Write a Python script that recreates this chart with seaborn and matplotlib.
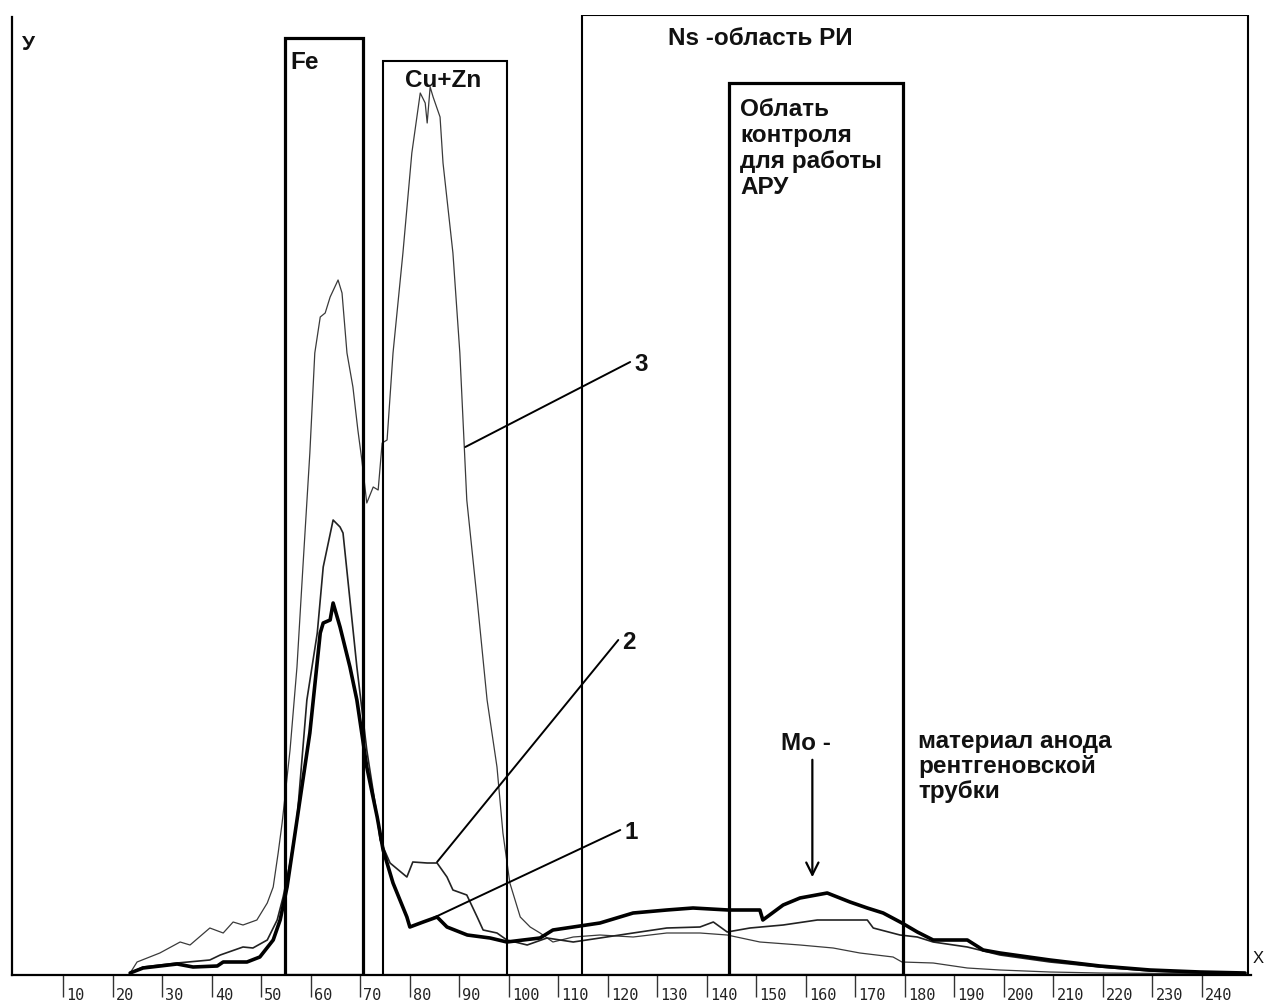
import matplotlib
matplotlib.use("Agg")
import matplotlib.pyplot as plt
import matplotlib.transforms as mtransforms
from matplotlib.patches import Rectangle
import numpy as np
import pandas as pd
import seaborn as sns

# ---------------- data ----------------
# curve 1 (thick)
ch1 = [23.5, 26.1, 33.0, 36.2, 41.1, 42.3, 47.1, 49.7, 52.4, 53.8, 55.2, 56.4, 57.8, 59.8,
       61.9, 62.5, 63.9, 64.5, 65.9, 67.9, 69.3, 71.3, 73.4, 74.6, 76.6, 79.4, 80.0, 82.7,
       85.5, 87.5, 91.6, 96.2, 99.6, 102.9, 106.3, 108.9, 113.0, 118.4, 125.1, 131.9, 137.2,
       144.3, 150.7, 151.3, 155.4, 158.8, 164.3, 168.9, 172.4, 175.6, 179.4, 182.5, 185.7,
       192.6, 195.8, 199.2, 209.3, 219.4, 229.5, 239.6, 248.7]
y1 = [2, 7, 11, 8, 9, 13, 13, 18, 35, 55, 88, 128, 175, 242,
      342, 352, 355, 372, 348, 308, 275, 208, 158, 125, 92, 58, 48, 53,
      58, 48, 40, 37, 33, 35, 37, 45, 48, 52, 62, 65, 67,
      65, 65, 55, 70, 77, 82, 73, 67, 62, 52, 43, 35,
      35, 25, 22, 15, 9, 5, 3, 2]

# curve 2 (medium)
ch2 = [23.5, 26.1, 33.0, 39.6, 41.7, 46.3, 48.3, 51.2, 53.2, 54.4, 55.8, 57.2, 59.2, 61.3,
       62.5, 64.5, 65.9, 66.5, 67.9, 69.3, 71.3, 73.4, 74.0, 76.0, 79.4, 80.6, 83.5, 85.5,
       87.5, 88.7, 91.5, 93.6, 94.8, 97.6, 99.6, 103.7, 107.7, 113.0, 118.4, 125.1, 131.9,
       138.6, 141.3, 144.1, 148.7, 155.4, 162.3, 172.4, 173.6, 179.0, 182.5, 185.7, 192.6,
       199.2, 209.3, 219.4, 229.5, 239.6, 248.7]
y2 = [2, 8, 12, 15, 20, 28, 27, 35, 55, 78, 112, 155, 275, 342,
      408, 455, 448, 442, 375, 308, 225, 158, 135, 112, 98, 113, 112, 112,
      98, 85, 80, 58, 45, 42, 35, 30, 37, 33, 37, 42, 47,
      48, 53, 43, 47, 50, 55, 55, 47, 40, 38, 33, 28,
      20, 13, 8, 4, 2, 1]

# curve 3 (thin)
ch3 = [23.5, 24.9, 29.5, 33.6, 35.6, 39.6, 42.3, 44.3, 46.3, 49.1, 51.2, 52.4, 53.4, 54.2,
       55.8, 57.2, 58.4, 59.8, 60.8, 61.9, 62.9, 63.9, 65.5, 66.3, 67.3, 68.5, 69.5, 70.3,
       71.3, 72.6, 73.6, 74.4, 75.4, 76.6, 78.6, 80.4, 82.1, 83.1, 83.5, 84.1, 84.7, 86.1,
       86.7, 88.7, 90.1, 91.5, 93.6, 95.6, 97.6, 98.8, 100.2, 102.3, 104.3, 106.3, 108.9,
       113.0, 118.4, 125.1, 131.9, 138.6, 144.1, 150.7, 158.8, 165.5, 170.9, 177.6, 179.4,
       185.7, 192.6, 199.2, 209.3, 219.4, 248.7]
y3 = [2, 13, 22, 33, 30, 47, 42, 53, 50, 55, 72, 88, 122, 152,
      225, 308, 408, 522, 622, 658, 662, 678, 695, 682, 622, 588, 545, 515,
      472, 488, 485, 532, 535, 622, 722, 822, 882, 872, 852, 888, 878, 858,
      812, 722, 622, 475, 375, 275, 208, 142, 92, 58, 48, 42, 33,
      38, 40, 38, 42, 42, 40, 33, 30, 27, 22, 18, 13,
      12, 7, 5, 3, 2, 1]

# x-axis ticks
tick_values = list(range(10, 250, 10))
tick_labels = [str(v) for v in tick_values]

# window boxes: (left, right, top)
box_names = ["Fe", "Cu+Zn", "Ns", "ARU"]
box_left = [54.8, 74.6, 114.8, 144.5]
box_right = [70.5, 99.6, 249.3, 179.6]
box_top = [937, 914, 960, 892]

# curve leader labels
curve_ids = ["3", "2", "1"]
leader_from_x = [91.2, 85.5, 84.7]
leader_from_y = [528, 113, 57]
leader_to_x = [124.5, 122.1, 122.5]
leader_to_y = [613, 335, 145]

aru_lines = ["Облать", "контроля", "для работы", "АРУ"]
mo_lines = ["материал анода", "рентгеновской", "трубки"]

# ---------------- figure ----------------
sns.set_theme(style="white")
plt.rcParams["font.family"] = ["Liberation Sans", "DejaVu Sans"]

W, H = 1266, 1002
fig = plt.figure(figsize=(W / 100, H / 100), dpi=100)
ax = fig.add_axes([12 / W, 27 / H, 1239 / W, 960 / H])

df = pd.concat([
    pd.DataFrame({"channel": ch1, "counts": y1, "curve": "1"}),
    pd.DataFrame({"channel": ch2, "counts": y2, "curve": "2"}),
    pd.DataFrame({"channel": ch3, "counts": y3, "curve": "3"}),
])

styles = {"3": (0.9, "#3a3a3a"), "2": (1.2, "#222222"), "1": (2.6, "#000000")}
for cid in ["3", "2", "1"]:
    lw, col = styles[cid]
    sns.lineplot(data=df[df["curve"] == cid], x="channel", y="counts", ax=ax,
                 color=col, linewidth=lw, estimator=None, sort=False, legend=False)

ax.set_xlim(-0.36, 249.9)
ax.set_ylim(0, 960)
ax.set_xlabel("")
ax.set_ylabel("")
ax.set_yticks([])

for s in ["top", "right"]:
    ax.spines[s].set_visible(False)
for s in ["left", "bottom"]:
    ax.spines[s].set_color("black")
    ax.spines[s].set_linewidth(1.6)
ax.spines["left"].set_bounds(0, 958)

# boxes
box_lw = {"Fe": 2.3, "Cu+Zn": 1.5, "Ns": 1.5, "ARU": 2.3}
for name, l, r, t in zip(box_names, box_left, box_right, box_top):
    ax.add_patch(Rectangle((l, 0), r - l, t, fill=False, edgecolor="black",
                           linewidth=box_lw[name], zorder=3))

# ticks
ax.set_xticks(tick_values)
ax.set_xticklabels(tick_labels, fontsize=11, family="DejaVu Sans Mono", color="#222222")
ax.tick_params(axis="x", direction="out", length=16, width=1.0, color="#333333",
               pad=-6.5, bottom=True)
offset = mtransforms.ScaledTranslation(3 / 100, 0, fig.dpi_scale_trans)
for lab in ax.get_xticklabels():
    lab.set_horizontalalignment("left")
    lab.set_transform(lab.get_transform() + offset)

# texts
tkw = dict(fontsize=17.5, fontweight="bold", color="#111111", va="baseline", ha="left")
ax.text(55.8, 906, "Fe", **tkw)
ax.text(79.0, 888, "Cu+Zn", **tkw)
ax.text(132.2, 930, "Ns -область РИ", **tkw)
for i, line in enumerate(aru_lines):
    ax.text(146.7, 859 - 26 * i, line, **tkw)
ax.text(155.0, 225, "Mo -", **tkw)
for i, line in enumerate(mo_lines):
    ax.text(182.7, 227 - 25 * i, line, **tkw)

ax.text(1.7, 925, "У", fontsize=15, fontweight="bold", color="#111111",
        va="baseline", ha="left")
ax.text(250.3, 12, "X", fontsize=12, color="#111111", va="baseline", ha="left",
        clip_on=False)

# leader lines and curve numbers
for cid, fx, fy, tx, ty in zip(curve_ids, leader_from_x, leader_from_y, leader_to_x, leader_to_y):
    ax.plot([fx, tx], [fy, ty], color="black", linewidth=1.4, zorder=4)
    ax.text(tx + 0.8, ty - 9, cid, **tkw)

# Mo arrow
ax.annotate("", xy=(161.3, 95), xytext=(161.3, 218),
            arrowprops=dict(arrowstyle="->", color="black", lw=1.6, mutation_scale=22))

fig.savefig("out.png", dpi=100, facecolor="white")
